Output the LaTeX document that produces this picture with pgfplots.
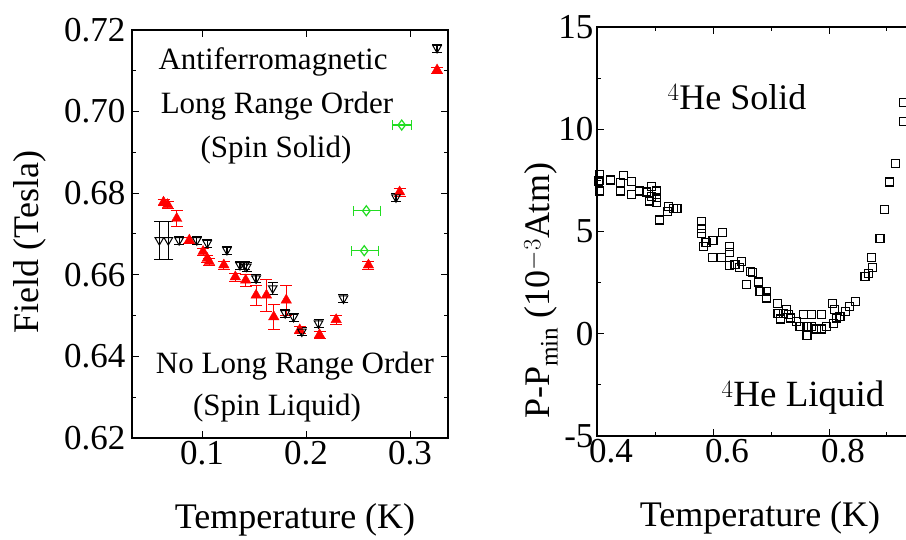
\documentclass[border=0pt]{standalone}
\usepackage{pgfplots}
\pgfplotsset{compat=1.18}
\usepackage{fontspec}
\setmainfont{Liberation Serif}
\definecolor{ptred}{HTML}{FF0000}
\definecolor{ptgreen}{HTML}{22DD22}
\pgfplotsset{panel/.style={scale only axis, axis line style={line width=1.3pt},
  every tick/.style={black, line width=1pt}, major tick length=7pt, minor tick length=4pt,
  tick align=inside, tick label style={font=\fontsize{35}{35}\selectfont},
  /pgf/number format/assume math mode=true}}

\begin{document}
\begin{tikzpicture}
% left panel: field vs temperature
\begin{axis}[panel, at={(132pt,102pt)}, anchor=south west, width=316pt, height=408pt,
  xmin=0.0327, xmax=0.3365, ymin=0.62, ymax=0.72,
  xtick={0.1,0.2,0.3}, xticklabels={0.1,0.2,0.3},
  ytick={0.62,0.64,0.66,0.68,0.70,0.72}, yticklabels={0.62,0.64,0.66,0.68,0.70,0.72},
  minor ytick={0.63,0.65,0.67,0.69,0.71}, yticklabel style={xshift=-3pt}]
\addplot[only marks, color=ptred, mark=triangle*, mark size=6pt,
  error bars/.cd, y dir=both, y explicit, error bar style={line width=1pt}] coordinates {
  (0.063,0.6778) +- (0,0.0008) (0.067,0.6772) +- (0,0.0008) (0.0757,0.6738) +- (0,0.002)
  (0.0878,0.6685) +- (0,0.0008) (0.101,0.6657) +- (0,0.0008) (0.105,0.6640) +- (0,0.0008)
  (0.107,0.6632) +- (0,0.0008) (0.121,0.6624) +- (0,0.001) (0.132,0.6595) +- (0,0.001)
  (0.142,0.6587) +- (0,0.0015) (0.152,0.6550) +- (0,0.0025) (0.162,0.6550) +- (0,0.004)
  (0.169,0.6497) +- (0,0.003) (0.181,0.6538) +- (0,0.0037) (0.194,0.6465) +- (0,0.0008)
  (0.213,0.6453) +- (0,0.0008) (0.229,0.6490) +- (0,0.001) (0.260,0.6624) +- (0,0.001)
  (0.290,0.6803) +- (0,0.001) (0.326,0.7102) +- (0,0.0008)};
\addplot[only marks, color=black, mark=triangle, mark size=5pt, mark options={rotate=180, line width=1pt},
  error bars/.cd, y dir=both, y explicit, error bar style={line width=1.2pt}] coordinates {
  (0.059,0.6685) +- (0,0.0047) (0.0676,0.6685) +- (0,0.0047) (0.078,0.6685) +- (0,0.001)
  (0.095,0.6685) +- (0,0.001) (0.105,0.6678) +- (0,0.001) (0.124,0.6661) +- (0,0.001)
  (0.1365,0.6624) +- (0,0.001) (0.141,0.6624) +- (0,0.001) (0.143,0.6620) +- (0,0.001)
  (0.152,0.6591) +- (0,0.001) (0.168,0.6567) +- (0,0.0015) (0.180,0.6506) +- (0,0.001)
  (0.188,0.6497) +- (0,0.001) (0.196,0.6461) +- (0,0.001) (0.212,0.6481) +- (0,0.001)
  (0.236,0.6542) +- (0,0.001) (0.2865,0.6790) +- (0,0.001) (0.326,0.7156) +- (0,0.001)};
\addplot[only marks, color=ptgreen, mark=diamond, mark size=5pt, mark options={line width=1.2pt},
  error bars/.cd, x dir=both, x explicit, error bar style={line width=1.2pt}] coordinates {
  (0.258,0.6757) +- (0.013,0) (0.256,0.6659) +- (0.013,0) (0.292,0.6967) +- (0.009,0)};
\end{axis}
% right panel: helium melting curve
\begin{axis}[panel, at={(597pt,104pt)}, anchor=south west, width=348pt, height=409pt,
  xmin=0.4, xmax=1.0, ymin=-5, ymax=15,
  xtick={0.4,0.6,0.8,1.0}, xticklabels={0.4,0.6,0.8,{}}, minor xtick={0.5,0.7,0.9},
  xticklabel style={xshift=14pt},
  ytick={-5,0,5,10,15}, yticklabels={-5,0,5,10,15}, minor ytick={-2.5,2.5,7.5,12.5}]
\addplot[only marks, color=black, mark=square, mark size=4pt, mark options={line width=1.1pt}] coordinates {
  (0.405,7.79) (0.405,7.50) (0.402,7.47) (0.404,6.98) (0.424,7.52) (0.440,7.39) (0.440,6.98)
  (0.445,7.75) (0.460,7.43) (0.460,6.81) (0.474,6.98) (0.486,6.93) (0.494,7.19) (0.494,6.73)
  (0.491,6.49) (0.502,6.98) (0.502,6.65) (0.502,6.40) (0.507,5.56) (0.521,5.99) (0.523,6.21)
  (0.532,6.11) (0.538,6.11) (0.580,5.51) (0.580,5.13) (0.580,4.90) (0.584,4.25) (0.588,4.48)
  (0.600,4.57) (0.599,3.71) (0.617,4.97) (0.615,3.71) (0.628,4.25) (0.628,3.99) (0.629,3.33)
  (0.638,3.38) (0.645,3.22) (0.649,3.54) (0.665,3.05) (0.668,2.98) (0.658,2.40) (0.678,2.53)
  (0.681,2.07) (0.693,2.07) (0.693,1.75) (0.711,1.47) (0.712,1.01) (0.716,0.72) (0.721,1.01)
  (0.727,1.18) (0.730,0.93) (0.733,0.77) (0.744,0.60) (0.750,0.36) (0.756,0.93) (0.762,0.36)
  (0.762,-0.08) (0.770,0.93) (0.770,0.36) (0.779,0.23) (0.787,0.23) (0.787,0.93) (0.796,0.36)
  (0.806,1.47) (0.807,0.52) (0.810,1.18) (0.813,0.77) (0.819,0.85) (0.828,1.09) (0.836,1.34)
  (0.845,1.58) (0.862,2.78) (0.868,2.94) (0.875,3.22) (0.874,3.71) (0.888,4.64) (0.895,6.08)
  (0.904,7.42) (0.914,8.33) (0.928,10.40) (0.928,11.30)};
\end{axis}
% axis titles and annotations
\node[rotate=90, font=\fontsize{36}{36}\selectfont] at (30pt,298pt) {Field (Tesla)};
\node[font=\fontsize{36}{36}\selectfont] at (295pt,20pt) {Temperature (K)};
\node[rotate=90, font=\fontsize{36}{36}\selectfont] at (541pt,249pt) {P-P$_{\mathrm{min}}$ (10$^{-3}$Atm)};
\node[font=\fontsize{36}{36}\selectfont] at (760pt,22pt) {Temperature (K)};
\node[font=\fontsize{31}{31}\selectfont] at (273pt,478pt) {Antiferromagnetic};
\node[font=\fontsize{31}{31}\selectfont] at (277pt,434pt) {Long Range Order};
\node[font=\fontsize{31}{31}\selectfont] at (276pt,390pt) {(Spin Solid)};
\node[font=\fontsize{31}{31}\selectfont] at (295pt,174pt) {No Long Range Order};
\node[font=\fontsize{31}{31}\selectfont] at (277pt,132pt) {(Spin Liquid)};
\node[font=\fontsize{36}{36}\selectfont] at (737pt,443pt) {$^{4}$He Solid};
\node[font=\fontsize{37}{37}\selectfont] at (803pt,142pt) {$^{4}$He Liquid};
\pgfresetboundingbox
\useasboundingbox (0pt,0pt) rectangle (906pt,540pt);
\end{tikzpicture}
\end{document}
